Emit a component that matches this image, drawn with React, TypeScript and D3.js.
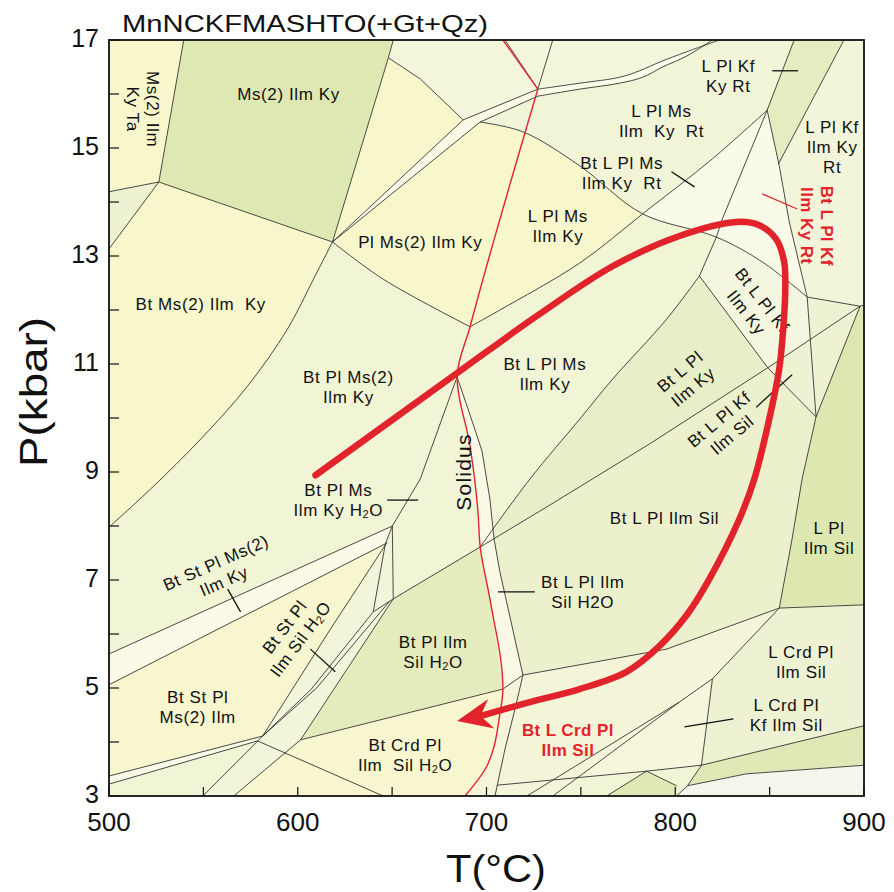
import React from 'react';
import * as d3 from 'd3';

type Pt = [number, number];

// axis ticks (T in °C, P in kbar)
const tempTicks = d3.range(500, 901, 50);
const tempLabels = [500, 600, 700, 800, 900];
const presTicks = d3.range(3, 18, 1);
const presLabels = [3, 5, 7, 9, 11, 13, 15, 17];

const fields: { name: string; pts: Pt[] }[] = [
  { name: 'Ms2IlmKy', pts: [[539.6, 17], [650.6, 17], [648, 16.67], [618.4, 13.26], [526.4, 14.37]] },
  { name: 'Ms2IlmKyTa', pts: [[500, 17], [539.6, 17], [526.4, 14.37], [500, 14.19]] },
  { name: 'sliverTL', pts: [[500, 14.19], [526.4, 14.37], [500, 13.13]] },
  { name: 'BtMs2IlmKy', pts: [[500, 13.13], [526.4, 14.37], [618.4, 13.26], [608.3, 12.57], [594.6, 11.65], [573.4, 10.59], [548.6, 9.61], [522.2, 8.69], [500, 7.98]] },
  { name: 'topCentre', pts: [[650.6, 17], [709.8, 17], [727.2, 16.09], [687.6, 15.52], [664.9, 16.28], [648, 16.67]] },
  { name: 'PlMs2IlmKy', pts: [[648, 16.67], [664.9, 16.28], [687.6, 15.52], [696.6, 15.48], [719.3, 15.3], [749.4, 14.67], [782.7, 13.78], [749.4, 12.87], [707.1, 12.0], [691.3, 11.69], [645.3, 12.57], [618.4, 13.26]] },
  { name: 'kyBand', pts: [[618.4, 13.26], [687.6, 15.52], [727.2, 16.09], [727.2, 15.96], [696.6, 15.48]] },
  { name: 'topRightOfRed', pts: [[709.8, 17], [727.2, 16.09], [749.4, 16.2], [770.5, 16.31], [781.1, 16.43], [791.7, 16.59], [805.9, 16.78], [823.4, 17]] },
  { name: 'topBand', pts: [[727.2, 16.09], [749.4, 16.2], [770.5, 16.31], [781.1, 16.43], [791.7, 16.59], [805.9, 16.78], [823.4, 17], [819.7, 17], [805.9, 16.7], [793.3, 16.5], [782.7, 16.31], [770.5, 16.2], [749.4, 16.09], [727.2, 15.96]] },
  { name: 'LPlMsIlmKyRt', pts: [[727.2, 15.96], [749.4, 16.09], [770.5, 16.2], [782.7, 16.31], [793.3, 16.5], [805.9, 16.7], [819.7, 17], [863, 17], [848.7, 15.7], [819.7, 14.8], [782.7, 13.78], [749.4, 14.67], [719.3, 15.3], [696.6, 15.48]] },
  { name: 'KfBandTop', pts: [[863, 17], [889.4, 17], [854.6, 14.7], [848.7, 15.7]] },
  { name: 'LPlKfIlmKyRt', pts: [[889.4, 17], [900, 17], [900, 12.07], [869.9, 12.24], [860.4, 13.63], [855.1, 14.67], [854.6, 14.7]] },
  { name: 'BtLPlKfIlmKyRt', pts: [[848.7, 15.7], [855.1, 14.67], [860.4, 13.63], [869.9, 12.24], [846.1, 12.89], [821.8, 13.35], [782.7, 13.78], [819.7, 14.8]] },
  { name: 'BtLPlKfIlmKy', pts: [[821.8, 13.35], [846.1, 12.89], [869.9, 12.24], [874.6, 10.02], [849, 10.93], [812.8, 12.63]] },
  { name: 'rightWedge', pts: [[869.9, 12.24], [897.9, 12.07], [874.6, 10.02]] },
  { name: 'BtLPlIlmKy', pts: [[812.8, 12.63], [849, 10.93], [786.4, 9.52], [734.6, 8.41], [696.6, 7.61], [723, 8.87], [749.4, 9.98], [766.8, 10.72], [795.4, 11.83]] },
  { name: 'BtLPlKfIlmSil', pts: [[849, 10.93], [874.6, 10.02], [897.9, 12.07]] },
  { name: 'LPlIlmSil', pts: [[897.9, 12.07], [900, 12.07], [900, 6.54], [855.1, 6.48], [861.9, 7.76], [867.2, 8.87], [874.6, 10.02]] },
  { name: 'BtLPlIlmSil', pts: [[696.6, 7.61], [734.6, 8.41], [786.4, 9.52], [849, 10.93], [874.6, 10.02], [867.2, 8.87], [861.9, 7.76], [855.1, 6.48], [795.4, 5.72], [719.3, 5.24], [707.1, 7.15], [704, 7.76]] },
  { name: 'solidusBand', pts: [[684.4, 10.76], [690.2, 10.17], [697.6, 9.39], [701.8, 8.5], [704, 7.76], [707.1, 7.15], [719.3, 5.24], [708.7, 4.98], [701.8, 6.65], [696.6, 7.63], [695.5, 8.26], [691.3, 9.48]] },
  { name: 'solidusBandLow', pts: [[719.3, 5.24], [715.1, 4.61], [709.8, 3.87], [704.5, 3], [688.6, 3], [700.3, 3.56], [707.1, 4.52], [708.7, 4.98]] },
  { name: 'BtPlIlmSilH2O', pts: [[650.6, 6.65], [696.6, 7.61], [701.8, 6.65], [708.7, 4.98], [601.5, 4.04]] },
  { name: 'BtCrdPl', pts: [[601.5, 4.04], [708.7, 4.98], [707.1, 4.52], [700.3, 3.56], [688.6, 3], [566.1, 3]] },
  { name: 'StSilBand', pts: [[647.4, 7.7], [650.6, 6.65], [601.5, 4.04], [566.1, 3], [549.7, 3], [581.4, 4.11], [617.3, 6.09]] },
  { name: 'StKyBand', pts: [[650.1, 8.0], [500, 5.63], [500, 5.06], [646.4, 7.67]] },
  { name: 'BtStPlMs2Ilm', pts: [[500, 5.06], [646.4, 7.67], [647.4, 7.7], [617.3, 6.09], [581.4, 4.11], [500, 3.37]] },
  { name: 'sliverBL', pts: [[500, 3.37], [581.4, 4.11], [578.7, 4.02], [500, 3.22]] },
  { name: 'BtLCrdPl', pts: [[719.3, 5.24], [795.4, 5.72], [855.1, 6.48], [819.7, 5.17], [802.2, 4.74], [763.7, 3.74], [735.1, 3], [704.5, 3], [709.8, 3.87], [715.1, 4.61]] },
  { name: 'LCrdKfWedge', pts: [[819.7, 5.17], [813.9, 3.57], [784.8, 3.46], [747, 3.31], [763.7, 3.74], [802.2, 4.74]] },
  { name: 'LCrdPl', pts: [[855.1, 6.48], [900, 6.54], [900, 4.3], [813.9, 3.57], [819.7, 5.17]] },
  { name: 'greenBandBR', pts: [[813.9, 3.57], [900, 4.3], [900, 3.57], [837.6, 3.41], [806.5, 3.19]] },
  { name: 'whiteBR', pts: [[806.5, 3.19], [837.6, 3.41], [900, 3.57], [900, 3], [800.7, 3]] },
  { name: 'greenSmall', pts: [[784.8, 3.46], [800.7, 3.19], [800.7, 3], [763.7, 3]] },
];

const fieldFill: Record<string, string> = {
  Ms2IlmKy: '#dee8b2', Ms2IlmKyTa: '#f8f6cb', sliverTL: '#eef2d2', BtMs2IlmKy: '#f8f6cb',
  topCentre: '#f4f6dc', PlMs2IlmKy: '#f8f6cb', kyBand: '#fbfae6', topBand: '#fafbe9',
  topRightOfRed: '#f4f6dc', LPlMsIlmKyRt: '#f1f4d6', KfBandTop: '#e5ecbf', LPlKfIlmKyRt: '#f3f5da',
  BtLPlKfIlmKyRt: '#f9fae8', BtLPlKfIlmKy: '#f4f6df', rightWedge: '#eef2d2', BtLPlIlmKy: '#e8eec7',
  BtLPlKfIlmSil: '#eef2d2', LPlIlmSil: '#dde8b0', BtLPlIlmSil: '#ecf0cd', solidusBand: '#faf9e6',
  solidusBandLow: '#f6f5dc', BtPlIlmSilH2O: '#e4ebbc', BtCrdPl: '#f7f6cf', StSilBand: '#f3f5da',
  StKyBand: '#fafae6', BtStPlMs2Ilm: '#f7f6cf', sliverBL: '#fafae8', BtLCrdPl: '#f4f5d8',
  LCrdKfWedge: '#f5f6dc', LCrdPl: '#eef2d3', greenBandBR: '#e0e9b6', whiteBR: '#f3f6ea', greenSmall: '#e0e9b6',
};

// reaction lines
const straightLines: Pt[][] = [
  [[539.6, 17], [526.4, 14.37]],
  [[526.4, 14.37], [500, 14.19]],
  [[526.4, 14.37], [500, 13.13]],
  [[526.4, 14.37], [618.4, 13.26]],
  [[650.6, 17], [648, 16.67], [618.4, 13.26]],
  [[648, 16.67], [664.9, 16.28], [687.6, 15.52]],
  [[618.4, 13.26], [687.6, 15.52]],
  [[618.4, 13.26], [696.6, 15.48]],
  [[687.6, 15.52], [727.2, 16.09]],
  [[696.6, 15.48], [727.2, 15.96]],
  [[709.8, 17], [727.2, 16.09]],
  [[735.1, 17], [727.2, 16.09]],
  [[863, 17], [848.7, 15.7]],
  [[889.4, 17], [854.6, 14.7]],
  [[848.7, 15.7], [855.1, 14.67], [860.4, 13.63], [869.9, 12.24]],
  [[848.7, 15.7], [825, 13.69], [821.8, 13.35], [812.8, 12.63]],
  [[869.9, 12.24], [897.9, 12.07], [900, 12.09]],
  [[869.9, 12.24], [874.6, 10.02]],
  [[812.8, 12.63], [849, 10.93], [874.6, 10.02]],
  [[874.6, 10.02], [897.9, 12.07]],
  [[874.6, 10.02], [867.2, 8.87], [861.9, 7.76], [855.1, 6.48]],
  [[855.1, 6.48], [900, 6.54]],
  [[897.9, 12.07], [849, 10.93], [786.4, 9.52], [734.6, 8.41], [696.6, 7.61], [650.6, 6.65]],
  [[684.4, 10.76], [690.2, 10.17], [697.6, 9.39], [701.8, 8.5], [704, 7.76], [707.1, 7.15], [719.3, 5.24]],
  [[684.4, 10.76], [664.9, 8.87], [650.1, 8.0]],
  [[650.1, 8.0], [650.6, 6.65]],
  [[650.1, 8.0], [500, 5.63]],
  [[650.1, 8.0], [646.4, 7.67], [500, 5.06]],
  [[646.4, 7.67], [640, 6.41], [650.6, 6.65]],
  [[647.4, 7.7], [617.3, 6.09], [581.4, 4.11], [549.7, 3]],
  [[650.6, 6.65], [601.5, 4.04], [566.1, 3]],
  [[640, 6.41], [607.2, 4.98], [581.4, 4.11]],
  [[648.5, 6.6], [610, 5.0], [581.4, 4.11]],
  [[500, 3.37], [581.4, 4.11]],
  [[500, 3.22], [578.7, 4.02]],
  [[578.7, 4.02], [645.3, 3]],
  [[601.5, 4.04], [708.7, 4.98], [719.3, 5.24]],
  [[719.3, 5.24], [795.4, 5.72], [855.1, 6.48]],
  [[719.3, 5.24], [715.1, 4.61], [709.8, 3.87], [704.5, 3]],
  [[855.1, 6.48], [819.7, 5.17], [802.2, 4.74], [763.7, 3.74], [735.1, 3]],
  [[802.2, 4.74], [760, 3.83], [721.4, 3]],
  [[819.7, 5.17], [813.9, 3.57]],
  [[813.9, 3.57], [900, 4.3]],
  [[813.9, 3.57], [784.8, 3.46], [705.5, 3.2]],
  [[813.9, 3.57], [806.5, 3.19], [800.7, 3]],
  [[806.5, 3.19], [837.6, 3.41], [900, 3.57]],
  [[784.8, 3.46], [800.7, 3.19]],
  [[784.8, 3.46], [763.7, 3]],
];

const curvedLines: Pt[][] = [
  [[727.2, 16.09], [749.4, 16.2], [770.5, 16.31], [781.1, 16.43], [791.7, 16.59], [805.9, 16.78], [823.4, 17]],
  [[727.2, 15.96], [749.4, 16.09], [770.5, 16.2], [782.7, 16.31], [793.3, 16.5], [805.9, 16.7], [819.7, 17]],
  [[696.6, 15.48], [719.3, 15.3], [749.4, 14.67], [782.7, 13.78], [821.8, 13.35], [846.1, 12.89], [869.9, 12.24]],
  [[848.7, 15.7], [819.7, 14.8], [782.7, 13.78], [749.4, 12.87], [707.1, 12.0], [691.3, 11.69]],
  [[618.4, 13.26], [645.3, 12.57], [691.3, 11.69]],
  [[812.8, 12.63], [795.4, 11.83], [766.8, 10.72], [749.4, 9.98], [723, 8.87], [696.6, 7.61]],
  [[618.4, 13.26], [608.3, 12.57], [594.6, 11.65], [573.4, 10.59], [548.6, 9.61], [522.2, 8.69], [500, 7.98]],
];

const solidusTop: Pt[] = [[708.7, 17], [727.2, 16.09]];
const solidusLow: Pt[] = [[727.2, 16.09], [691.3, 11.69], [684.4, 10.76], [691.3, 9.48], [695.5, 8.26], [696.6, 7.63], [701.8, 6.65], [708.7, 4.98], [707.1, 4.52], [700.3, 3.56], [688.6, 3]];

// P-T path
const ptPath: Pt[] = [
  [609.4, 8.94], [684.4, 10.83], [726.7, 11.89], [766.8, 12.81], [802.2, 13.37], [832.4, 13.63],
  [844.5, 13.57], [853.5, 13.31], [857.7, 12.89], [858.3, 12.39], [857.2, 11.65], [855.1, 10.91],
  [849.8, 9.98], [841.9, 8.87], [834, 8.13], [818.1, 7.02], [806.5, 6.37], [791.7, 5.78],
  [774.2, 5.3], [749.4, 4.98], [723, 4.74], [696.6, 4.48],
];
const arrowTip: Pt = [684.4, 4.39];

// label leader ticks
const leaders: Pt[][] = [
  [[851.4, 16.43], [865.1, 16.43]],
  [[798, 14.56], [810.2, 14.28]],
  [[842.9, 10.2], [861.9, 10.8]],
  [[647.4, 8.48], [663.8, 8.48]],
  [[562.9, 6.83], [569.7, 6.41]],
  [[606.7, 5.72], [619.9, 5.3]],
  [[706.1, 6.78], [725.6, 6.78]],
  [[804.9, 4.28], [830.8, 4.43]],
];
const redLeaders: Pt[][] = [[[846.1, 14.15], [864.6, 13.87]]];

type Label = { lines: string[]; at: Pt; rot?: number; red?: boolean };
const labels: Label[] = [
  { lines: ['Ms(2) Ilm Ky'], at: [595.1, 16.0] },
  { lines: ['Ms(2) Ilm', 'Ky Ta'], at: [518.2, 15.72], rot: 90 },
  { lines: ['Pl Ms(2) Ilm Ky'], at: [664.9, 13.26] },
  { lines: ['Bt Ms(2) Ilm  Ky'], at: [548.6, 12.11] },
  { lines: ['L Pl Ms', 'Ilm Ky'], at: [737.8, 13.56] },
  { lines: ['L Pl Kf', 'Ky Rt'], at: [828.1, 16.33] },
  { lines: ['L Pl Ms', 'Ilm  Ky  Rt'], at: [792.7, 15.5] },
  { lines: ['Bt L Pl Ms', 'Ilm Ky  Rt'], at: [771.6, 14.54] },
  { lines: ['L Pl Kf', 'Ilm Ky', 'Rt'], at: [883.1, 15.02] },
  { lines: ['Bt L Pl Kf', 'Ilm Ky Rt'], at: [875.2, 13.56], rot: 90, red: true },
  { lines: ['Bt L Pl Kf', 'Ilm Ky'], at: [841.9, 12.07], rot: 52 },
  { lines: ['Bt L Pl', 'Ilm Ky'], at: [805.9, 10.72], rot: -40 },
  { lines: ['Bt L Pl Kf', 'Ilm Sil'], at: [826.6, 9.83], rot: -40 },
  { lines: ['Bt L Pl Ms', 'Ilm Ky'], at: [730.9, 10.81] },
  { lines: ['Bt Pl Ms(2)', 'Ilm Ky'], at: [626.8, 10.57] },
  { lines: ['Bt Pl Ms', 'Ilm Ky H_2O'], at: [621.5, 8.48] },
  { lines: ['Bt L Pl Ilm Sil'], at: [794.3, 8.15] },
  { lines: ['L Pl', 'Ilm Sil'], at: [881.5, 7.78] },
  { lines: ['Bt St Pl Ms(2)', 'Ilm Ky'], at: [558.7, 7.15], rot: -24 },
  { lines: ['Bt St Pl', 'Ilm Sil H_2O'], at: [597.2, 6.02], rot: -53 },
  { lines: ['Bt St Pl', 'Ms(2) Ilm'], at: [547, 4.65] },
  { lines: ['Bt Pl Ilm', 'Sil H_2O'], at: [671.7, 5.67] },
  { lines: ['Bt Crd Pl', 'Ilm  Sil H_2O'], at: [656.9, 3.76] },
  { lines: ['Bt L Pl Ilm', 'Sil H2O'], at: [751, 6.78] },
  { lines: ['Bt L Crd Pl', 'Ilm Sil'], at: [743.1, 4.04], red: true },
  { lines: ['L Crd Pl', 'Ilm Sil'], at: [866.7, 5.48] },
  { lines: ['L Crd Pl', 'Kf Ilm Sil'], at: [858.8, 4.5] },
];

const RED = '#e3232c';
const FONT = '"Liberation Sans", Arial, Helvetica, sans-serif';

function LabelLine({ text, dy }: { text: string; dy: number }) {
  const parts = text.split('_2');
  if (parts.length === 1) {
    return <tspan x={0} y={dy}>{text}</tspan>;
  }
  return (
    <tspan x={0} y={dy}>
      {parts[0]}
      <tspan fontSize={11} dy={4}>2</tspan>
      <tspan dy={-4}>{parts[1]}</tspan>
    </tspan>
  );
}

export default function App() {
  const width = 894;
  const height = 892;
  const x = d3.scaleLinear().domain([500, 900]).range([109, 864]);
  const y = d3.scaleLinear().domain([3, 17]).range([796, 40]);

  const lin = d3.line<Pt>().x((d) => x(d[0])).y((d) => y(d[1]));
  const smooth = d3
    .line<Pt>()
    .x((d) => x(d[0]))
    .y((d) => y(d[1]))
    .curve(d3.curveCatmullRom.alpha(0.5));
  const monoY = d3
    .line<Pt>()
    .x((d) => x(d[0]))
    .y((d) => y(d[1]))
    .curve(d3.curveMonotoneY);

  // arrow head at the end of the P-T path
  const last = ptPath[ptPath.length - 1];
  const tx = x(arrowTip[0]);
  const ty = y(arrowTip[1]);
  const dx = tx - x(last[0]);
  const dy = ty - y(last[1]);
  const len = Math.hypot(dx, dy);
  const ux = dx / len;
  const uy = dy / len;
  const nx = -uy;
  const ny = ux;
  const headL = 35;
  const headW = 15;
  const notch = 24;
  const head = [
    [tx, ty],
    [tx - ux * headL + nx * headW, ty - uy * headL + ny * headW],
    [tx - ux * notch, ty - uy * notch],
    [tx - ux * headL - nx * headW, ty - uy * headL - ny * headW],
  ]
    .map((p) => p.join(','))
    .join(' ');

  const [x0, x1] = x.range();
  const [y0, y1] = [y(17), y(3)];

  return (
    <svg width={width} height={height} style={{ display: 'block', position: 'absolute', left: 0, top: 0 }} fontFamily={FONT}>
      <defs>
        <clipPath id="plot">
          <rect x={x0} y={y0} width={x1 - x0} height={y1 - y0} />
        </clipPath>
      </defs>
      <rect width={width} height={height} fill="#fff" />

      <g clipPath="url(#plot)">
        <rect x={x0} y={y0} width={x1 - x0} height={y1 - y0} fill="#f2f4d6" />
        {fields.map((f) => (
          <path key={f.name} d={lin(f.pts) + 'Z'} fill={fieldFill[f.name]} stroke={fieldFill[f.name]} strokeWidth={0.5} />
        ))}
        {straightLines.map((l, i) => (
          <path key={'s' + i} d={lin(l) || ''} fill="none" stroke="#2a2a2a" strokeWidth={0.85} />
        ))}
        {curvedLines.map((l, i) => (
          <path key={'c' + i} d={smooth(l) || ''} fill="none" stroke="#2a2a2a" strokeWidth={0.85} />
        ))}
        <path d={lin(solidusTop) || ''} fill="none" stroke={RED} strokeWidth={1.4} />
        <path d={monoY(solidusLow) || ''} fill="none" stroke={RED} strokeWidth={1.4} />
        {leaders.map((l, i) => (
          <path key={'l' + i} d={lin(l) || ''} stroke="#111" strokeWidth={1.3} fill="none" />
        ))}
        {redLeaders.map((l, i) => (
          <path key={'r' + i} d={lin(l) || ''} stroke={RED} strokeWidth={1.3} fill="none" />
        ))}

        {labels.map((lb, i) => {
          const n = lb.lines.length;
          return (
            <text
              key={'t' + i}
              transform={`translate(${x(lb.at[0])},${y(lb.at[1])}) rotate(${lb.rot || 0})`}
              textAnchor="middle"
              dominantBaseline="central"
              fontSize={17}
              fontWeight={lb.red ? 'bold' : 'normal'}
              letterSpacing={lb.red ? 0.4 : 0.6}
              fill={lb.red ? RED : '#111'}
              style={{ whiteSpace: 'pre' }}
            >
              {lb.lines.map((t, j) => (
                <LabelLine key={j} text={t} dy={(j - (n - 1) / 2) * 20} />
              ))}
            </text>
          );
        })}
        <text
          transform={`translate(${x(687.6)},${y(9.0)}) rotate(-90)`}
          textAnchor="middle"
          dominantBaseline="central"
          fontSize={21}
          letterSpacing={1.2}
          fill="#111"
        >
          Solidus
        </text>

        <path d={smooth(ptPath) || ''} fill="none" stroke={RED} strokeWidth={6.5} strokeLinecap="round" strokeLinejoin="round" />
        <polygon points={head} fill={RED} />
      </g>

      {/* ticks */}
      {tempTicks.map((t) => (
        <line key={'xt' + t} x1={x(t)} x2={x(t)} y1={y1} y2={y1 - 9} stroke="#111" strokeWidth={1.2} />
      ))}
      {presTicks.map((p) => (
        <line key={'yt' + p} x1={x0} x2={x0 + 10} y1={y(p)} y2={y(p)} stroke="#111" strokeWidth={1.2} />
      ))}
      <rect x={x0} y={y0} width={x1 - x0} height={y1 - y0} fill="none" stroke="#111" strokeWidth={1.8} />

      {tempLabels.map((t) => (
        <text key={'xl' + t} x={x(t)} y={831} textAnchor="middle" fontSize={26} fill="#111">
          {t}
        </text>
      ))}
      {presLabels.map((p) => (
        <text key={'yl' + p} x={x0 - 10} y={y(p) - 2} textAnchor="end" dominantBaseline="central" fontSize={25} fill="#111">
          {p}
        </text>
      ))}

      <text x={122} y={32} fontSize={24} textLength={366} lengthAdjust="spacingAndGlyphs" fill="#111">
        MnNCKFMASHTO(+Gt+Qz)
      </text>
      <text x={496} y={882} textAnchor="middle" fontSize={38} textLength={100} lengthAdjust="spacingAndGlyphs" fill="#111">
        T(°C)
      </text>
      <text
        transform="translate(34,392) rotate(-90)"
        textAnchor="middle"
        dominantBaseline="central"
        fontSize={38}
        textLength={150}
        lengthAdjust="spacingAndGlyphs"
        fill="#111"
      >
        P(kbar)
      </text>
    </svg>
  );
}
